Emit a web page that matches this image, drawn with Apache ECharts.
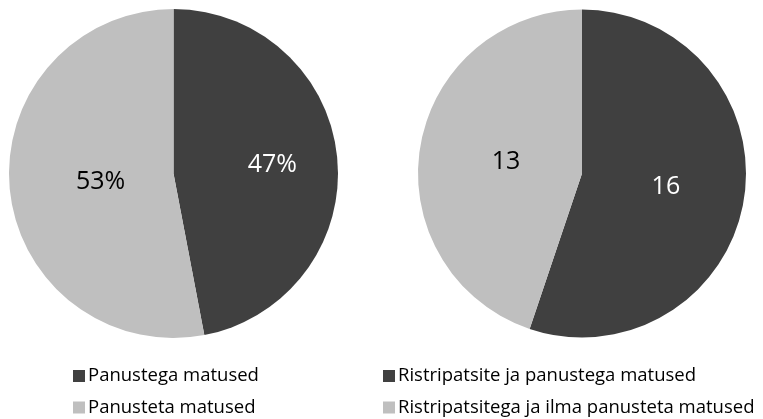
<!DOCTYPE html>
<html>
<head>
<meta charset="utf-8">
<script src="https://cdn.jsdelivr.net/npm/echarts@6/dist/echarts.min.js"></script>
<style>
html,body{margin:0;padding:0;background:#fff;}
#chart{width:763px;height:419px;}
</style>
</head>
<body>
<div id="chart"></div>
<script>
const leftCategories = ['Panustega matused', 'Panusteta matused'];
const leftValues = [47, 53];
const rightCategories = ['Ristripatsite ja panustega matused', 'Ristripatsitega ja ilma panusteta matused'];
const rightValues = [16, 13];
const colors = ['#404040', '#bfbfbf'];
const labelColors = ['#ffffff', '#000000'];
const leftOffsets = [[14, -1], [12, 0]];
const rightOffsets = [[0, 0], [8, 2]];
const FONT = '"Open Sans", sans-serif';

const chart = echarts.init(document.getElementById('chart'), null, {renderer: 'canvas'});

function buildData(cats, vals, offsets) {
  return cats.map((c, i) => ({
    name: c,
    value: vals[i],
    itemStyle: {color: colors[i]},
    label: {color: labelColors[i], offset: offsets[i]}
  }));
}

function makeLegend(left, names) {
  return {
    type: 'plain',
    orient: 'vertical',
    left: left,
    top: 366,
    width: 380,
    height: 120,
    padding: 0,
    icon: 'rect',
    itemWidth: 12,
    itemHeight: 12,
    itemGap: 11.5,
    data: names,
    textStyle: {fontFamily: FONT, fontSize: 18.5, lineHeight: 20, color: '#000', padding: [0, 0, 0, -2]}
  };
}

chart.setOption({
  animation: false,
  legend: [makeLegend(73, leftCategories), makeLegend(383, rightCategories)],
  series: [
    {
      type: 'pie',
      center: [173.5, 173.5],
      radius: 164.5,
      startAngle: 90,
      clockwise: true,
      silent: true,
      itemStyle: {borderWidth: 0},
      label: {
        position: 'inside',
        fontFamily: FONT,
        fontSize: 25,
        formatter: p => Math.round(p.percent) + '%'
      },
      labelLine: {show: false},
      data: buildData(leftCategories, leftValues, leftOffsets)
    },
    {
      type: 'pie',
      center: [582, 173.5],
      radius: 164,
      startAngle: 90,
      clockwise: true,
      silent: true,
      itemStyle: {borderWidth: 0},
      label: {
        position: 'inside',
        fontFamily: FONT,
        fontSize: 25,
        formatter: p => String(p.value)
      },
      labelLine: {show: false},
      data: buildData(rightCategories, rightValues, rightOffsets)
    }
  ]
});
</script>
</body>
</html>
